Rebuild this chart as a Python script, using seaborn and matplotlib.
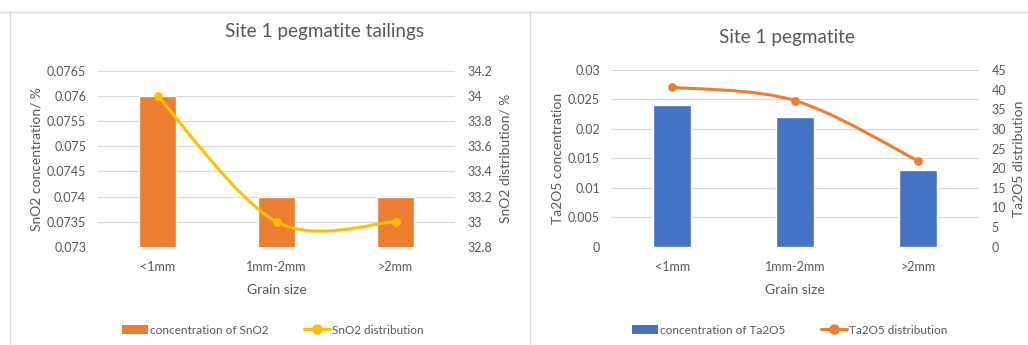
import numpy as np
import pandas as pd
import matplotlib
matplotlib.use("Agg")
import matplotlib.pyplot as plt
from matplotlib.path import Path
from matplotlib.patches import PathPatch, Patch
from matplotlib.lines import Line2D
import seaborn as sns

# ---- data ----
grain_sizes = ["<1mm", "1mm-2mm", ">2mm"]
sno2_concentration = [0.076, 0.074, 0.074]
sno2_distribution = [34.0, 33.0, 33.0]
ta2o5_concentration = [0.024, 0.022, 0.013]
ta2o5_distribution = [40.6, 37.2, 21.9]

left_ticks = [0.073, 0.0735, 0.074, 0.0745, 0.075, 0.0755, 0.076, 0.0765]
left_tick_labels = ["0.073", "0.0735", "0.074", "0.0745", "0.075", "0.0755", "0.076", "0.0765"]
left_right_ticks = [32.8, 33.0, 33.2, 33.4, 33.6, 33.8, 34.0, 34.2]
left_right_labels = ["32.8", "33", "33.2", "33.4", "33.6", "33.8", "34", "34.2"]
right_ticks = [0, 0.005, 0.01, 0.015, 0.02, 0.025, 0.03]
right_tick_labels = ["0", "0.005", "0.01", "0.015", "0.02", "0.025", "0.03"]
right_right_ticks = [0, 5, 10, 15, 20, 25, 30, 35, 40, 45]

sns.set_theme(style="white")
plt.rcParams["font.family"] = ["Lato", "DejaVu Sans"]

TXT = "#595959"
GRID = "#D9D9D9"
ORANGE = "#ED7D31"
YELLOW = "#FFC000"
BLUE = "#4472C4"

W, H = 1028, 345
fig = plt.figure(figsize=(W / 100, H / 100), dpi=100)


def fx(px):
    return px / W


def fy(py):
    return 1 - py / H


def smooth_path(xs, ys):
    """Excel-style smoothed line (Catmull-Rom Bezier) through the data points."""
    pts = np.column_stack([xs, ys]).astype(float)
    n = len(pts)
    verts = [pts[0]]
    codes = [Path.MOVETO]
    for i in range(n - 1):
        p0 = pts[i - 1] if i > 0 else pts[i]
        p1 = pts[i]
        p2 = pts[i + 1]
        p3 = pts[i + 2] if i + 2 < n else pts[i + 1]
        c1 = p1 + (p2 - p0) / 6.0
        c2 = p2 - (p3 - p1) / 6.0
        verts += [c1, c2, p2]
        codes += [Path.CURVE4] * 3
    return Path(verts, codes)


def make_panel(rect, cats, bars, line, bar_color, line_color, ylim, yticks, ylabels,
               y2lim, y2ticks, y2labels, ylab, y2lab, title, title_xy,
               ylab_x, y2lab_x, bar_label, line_label, legend_x,
               pad_l, pad_r):
    ax = fig.add_axes(rect)
    df = pd.DataFrame({"size": cats, "conc": bars})
    sns.barplot(data=df, x="size", y="conc", color=bar_color, width=0.31,
                saturation=1, ax=ax, zorder=2)
    ax.set_ylim(*ylim)
    ax.set_yticks(yticks)
    ax.set_yticklabels(ylabels)
    ax.grid(axis="y", color=GRID, linewidth=0.9, zorder=0)
    ax.set_axisbelow(True)
    for s in ax.spines.values():
        s.set_visible(False)
    ax.tick_params(axis="both", length=0, colors=TXT, labelsize=9)
    ax.tick_params(axis="y", pad=pad_l)
    ax.tick_params(axis="x", pad=10)
    ax.set_xlabel("Grain size", color=TXT, fontsize=10, labelpad=8)
    ax.set_ylabel(ylab, color=TXT, fontsize=10)
    ax.yaxis.label.set_va("center")
    ax.yaxis.set_label_coords((ylab_x - rect[0] * W) / (rect[2] * W), 0.5)

    ax2 = ax.twinx()
    xs = np.arange(len(cats))
    ax2.add_patch(PathPatch(smooth_path(xs, line), facecolor="none",
                            edgecolor=line_color, linewidth=2.2, zorder=3,
                            capstyle="round"))
    sns.scatterplot(x=xs, y=line, color=line_color, s=40, edgecolor=line_color,
                    linewidth=0, ax=ax2, zorder=4)
    ax2.set_ylim(*y2lim)
    ax2.set_yticks(y2ticks)
    ax2.set_yticklabels(y2labels)
    for s in ax2.spines.values():
        s.set_visible(False)
    ax2.tick_params(axis="y", length=0, colors=TXT, labelsize=9, pad=pad_r)
    ax2.set_ylabel(y2lab, color=TXT, fontsize=10)
    ax2.yaxis.label.set_va("center")
    ax2.yaxis.set_label_coords((y2lab_x - rect[0] * W) / (rect[2] * W), 0.5)
    ax.set_xlim(-0.5, len(cats) - 0.5)

    fig.text(fx(title_xy[0]), fy(title_xy[1]), title, ha="center", va="center",
             color=TXT, fontsize=13.6)

    handles = [Patch(facecolor=bar_color, edgecolor="none", label=bar_label),
               Line2D([0], [0], color=line_color, linewidth=2.2, marker="o",
                      markersize=6.5, label=line_label)]
    fig.legend(handles=handles, loc="center", bbox_to_anchor=(fx(legend_x), fy(330)),
               ncol=2, frameon=False, fontsize=8.5, labelcolor=TXT,
               handlelength=2.2, handleheight=0.8, handletextpad=0.2,
               columnspacing=3.0, borderaxespad=0)
    return ax, ax2


make_panel([fx(98), fy(247), fx(357), (247 - 70.7) / H], grain_sizes,
           sno2_concentration, sno2_distribution, ORANGE, YELLOW,
           (0.073, 0.0765), left_ticks, left_tick_labels,
           (32.8, 34.2), left_right_ticks, left_right_labels,
           "SnO2 concentration/ %", "SnO2 distribution/ %",
           "Site 1 pegmatite tailings", (325, 32), 37, 505,
           "concentration of SnO2", "SnO2 distribution", 273, 8.5, 9)

make_panel([fx(611), fy(246.7), fx(368.3), (246.7 - 70) / H], grain_sizes,
           ta2o5_concentration, ta2o5_distribution, BLUE, ORANGE,
           (0, 0.03), right_ticks, right_tick_labels,
           (0, 45), right_right_ticks, [str(t) for t in right_right_ticks],
           "Ta2O5 concentration", "Ta2O5 distribution",
           "Site 1 pegmatite", (787, 38), 558, 1019,
           "concentration of Ta2O5", "Ta2O5 distribution", 790, 8, 9)

# chart frames
fig.add_artist(Line2D([0, 1], [fy(12), fy(12)], transform=fig.transFigure,
                      color=GRID, linewidth=1.0))
for xp in (10, 530):
    fig.add_artist(Line2D([fx(xp), fx(xp)], [fy(12), 0], transform=fig.transFigure,
                          color=GRID, linewidth=1.0))

fig.savefig("out.png", dpi=100)
